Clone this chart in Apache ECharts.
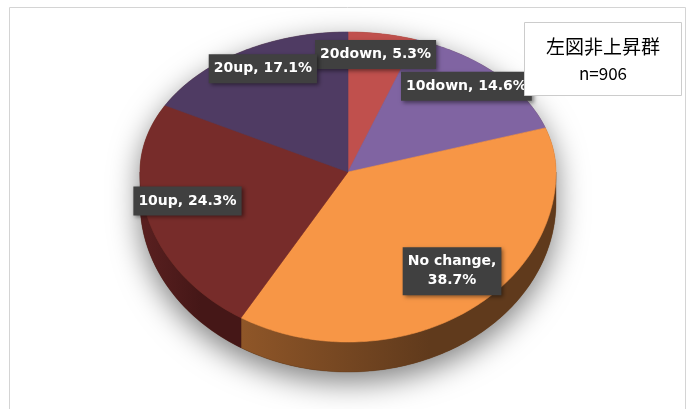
<!DOCTYPE html>
<html>
<head>
<meta charset="utf-8">
<script src="https://cdn.jsdelivr.net/npm/echarts@6/dist/echarts.min.js"></script>
<style>
  html, body { margin: 0; padding: 0; background: #fff; }
  #main { width: 689px; height: 409px; }
</style>
</head>
<body>
<div id="main"></div>
<script>
// 区分と割合(%)
var categories = ['20down', '10down', 'No change', '10up', '20up'];
var shares = [5.3, 14.6, 38.7, 24.3, 17.1];
var titleText = '左図非上昇群';
var subText = 'n=906';

var topColors = ['#c0504d', '#8064a2', '#f79646', '#772c2a', '#4f3b63'];
var sideColors = [
  ['#7a2e2c', '#5e2322'],
  ['#4f3c66', '#3d2e50'],
  ['#8f5628', '#603a1c'],
  ['#5a2020', '#451717'],
  ['#35283f', '#2b2034']
];

var chart = echarts.init(document.getElementById('main'));

// 3D風パイの形（奥側は扁平、手前側は少し大きく）
var cx = 348, cy = 172, rx = 208, ryFar = 140, ryNear = 170, depth = 30;
var total = shares.reduce(function (a, b) { return a + b; }, 0);

function rimPoint(deg, dy) {
  var t = deg * Math.PI / 180;
  var c = Math.cos(t);
  var ry = c > 0 ? ryFar : ryNear;
  return [cx + rx * Math.sin(t), cy - ry * c + (dy || 0)];
}

function arc(a0, a1, dy) {
  var pts = [];
  var n = Math.max(2, Math.ceil(Math.abs(a1 - a0)));
  for (var k = 0; k <= n; k++) {
    pts.push(rimPoint(a0 + (a1 - a0) * k / n, dy));
  }
  return pts;
}

function labelText(i, v) {
  var s = categories[i] + ', ' + v.toFixed(1) + '%';
  // 長いラベルは折り返す
  if (s.length > 15) s = s.replace(', ', ',\n');
  return s;
}

function renderSlice(params, api) {
  var i = params.dataIndex;
  var before = 0;
  for (var k = 0; k < i; k++) before += shares[k];
  var a0 = before / total * 360;
  var a1 = a0 + api.value(0) / total * 360;
  var children = [];

  // 上面
  var topPts = [[cx, cy]].concat(arc(a0, a1, 0));
  children.push({
    type: 'polygon',
    z2: 10,
    shape: { points: topPts },
    style: { fill: topColors[i], stroke: topColors[i], lineWidth: 0.6 }
  });

  // 側面（手前側だけ見える）
  var s = Math.max(a0, 90), e = Math.min(a1, 270);
  if (s < e) {
    var sidePts = arc(s, e, 0).concat(arc(e, s, depth));
    var xs = sidePts.map(function (p) { return p[0]; });
    var minX = Math.min.apply(null, xs), maxX = Math.max.apply(null, xs);
    children.push({
      type: 'polygon',
      z2: 5,
      shape: { points: sidePts },
      style: {
        fill: new echarts.graphic.LinearGradient(minX, 0, maxX, 0, [
          { offset: 0, color: sideColors[i][0] },
          { offset: 0.6, color: sideColors[i][1] },
          { offset: 1, color: sideColors[i][1] }
        ], true),
        stroke: sideColors[i][1], lineWidth: 0.4
      }
    });
  }

  // 影（一回だけ）
  if (i === 0) {
    var sil = arc(270, 450, 0).concat(arc(90, 270, depth));
    children.push({
      type: 'polygon',
      z2: 1,
      shape: { points: sil },
      style: {
        fill: '#6b421f',
        shadowBlur: 30,
        shadowOffsetY: 10,
        shadowColor: 'rgba(0,0,0,0.5)'
      }
    });
  }

  // ラベル
  var mid = (a0 + a1) / 2;
  var lp = rimPoint(mid, 0);
  var lx = cx + (lp[0] - cx) * 0.8;
  var ly = cy + (lp[1] - cy) * 0.8 - 7;
  children.push({
    type: 'text',
    z2: 30,
    x: lx,
    y: ly,
    style: {
      text: labelText(i, api.value(0)),
      fill: '#ffffff',
      font: 'bold 14px "DejaVu Sans"',
      align: 'center',
      verticalAlign: 'middle',
      lineHeight: 19,
      backgroundColor: '#404040',
      padding: [5, 5, 5, 5],
      shadowBlur: 4,
      shadowOffsetX: 2,
      shadowOffsetY: 2,
      shadowColor: 'rgba(0,0,0,0.45)'
    }
  });

  return { type: 'group', children: children };
}

var option = {
  backgroundColor: '#ffffff',
  animation: false,
  title: {
    text: titleText,
    subtext: subText,
    left: 581,
    top: 22,
    textAlign: 'center',
    padding: [14, 22, 12, 22],
    itemGap: 6,
    borderColor: '#cccccc',
    borderWidth: 1,
    backgroundColor: '#ffffff',
    z: 10,
    textStyle: {
      fontFamily: '"Noto Sans CJK JP"',
      fontSize: 19,
      fontWeight: 'normal',
      color: '#000',
      lineHeight: 22
    },
    subtextStyle: {
      fontFamily: '"Noto Sans CJK JP"',
      fontSize: 17,
      color: '#000',
      lineHeight: 20
    }
  },
  graphic: [{
    type: 'rect',
    silent: true,
    shape: { x: 9.5, y: 7.5, width: 676, height: 420 },
    style: { fill: 'none', stroke: '#d4d4d4', lineWidth: 1 }
  }],
  series: [{
    type: 'custom',
    coordinateSystem: 'none',
    renderItem: renderSlice,
    data: shares.map(function (v, i) { return { name: categories[i], value: v }; })
  }]
};

chart.setOption(option);
</script>
</body>
</html>
